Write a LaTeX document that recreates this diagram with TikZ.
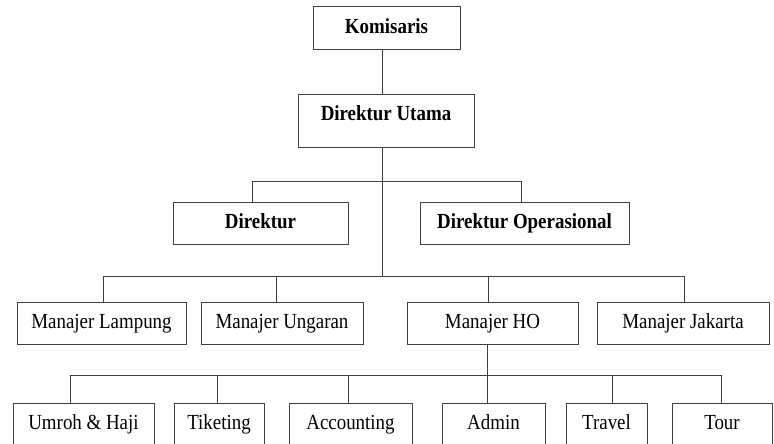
\documentclass[tikz,border=0pt]{standalone}
\usepackage{fontspec}
\setmainfont[FakeStretch=0.88]{Liberation Serif}
\begin{document}
\begin{tikzpicture}[x=1pt,y=-1pt,
  box/.style={draw=black!75, line width=1pt, inner sep=0pt, minimum height=42pt, text height=14pt, text depth=4pt, font=\fontsize{21.5}{23}\selectfont, text=black},
  bbox/.style={box, font=\fontsize{21.5}{23}\selectfont\bfseries},
  conn/.style={draw=black!75, line width=1pt}]
\useasboundingbox (0,0) rectangle (774,444);
\clip (0,0) rectangle (774,444);
% top
\node[bbox, minimum width=147pt, minimum height=43pt] (kom) at (386.5,28.5) {Komisaris};
\node[bbox, minimum width=176pt, minimum height=53pt] (du) at (386,120.5) {\raisebox{5pt}{Direktur Utama}};
\node[bbox, minimum width=175pt] (dir) at (260.5,223) {Direktur};
\node[bbox, minimum width=209pt] (dop) at (524.5,223) {Direktur Operasional};
% managers
\node[box, minimum width=169pt] (mL) at (101.5,323) {Manajer Lampung};
\node[box, minimum width=162pt] (mU) at (282,323) {Manajer Ungaran};
\node[box, minimum width=171pt] (mH) at (492.5,323) {Manajer HO};
\node[box, minimum width=172pt] (mJ) at (683,323) {Manajer Jakarta};
% bottom
\node[box, minimum width=141pt] (u) at (83.5,424) {Umroh \& Haji};
\node[box, minimum width=90pt] (t) at (219,424) {Tiketing};
\node[box, minimum width=123pt] (ac) at (350.5,424) {Accounting};
\node[box, minimum width=103pt] (ad) at (493.5,424) {Admin};
\node[box, minimum width=81pt] (tr) at (606.5,424) {Travel};
\node[box, minimum width=100pt] (to) at (722,424) {Tour};
% junction coordinates
\coordinate (sp) at (382,0);
\coordinate (b1) at (0,181);
\coordinate (b2) at (0,276);
\coordinate (b3) at (0,375);
\coordinate (xdir) at (252,0);
\coordinate (xdop) at (521,0);
\coordinate (xL) at (103,0);
\coordinate (xU) at (276,0);
\coordinate (xH) at (488,0);
\coordinate (xJ) at (684,0);
\coordinate (xh) at (487,0);
\coordinate (xu) at (70,0);
\coordinate (xt) at (217,0);
\coordinate (xac) at (348,0);
\coordinate (xtr) at (612,0);
\coordinate (xto) at (721,0);
% spine
\draw[conn] (sp |- kom.south) -- (sp |- du.north);
\draw[conn] (sp |- du.south) -- (sp |- b2);
% director bar
\draw[conn] (xdir |- dir.north) -- (xdir |- b1) -- (xdop |- b1) -- (xdop |- dop.north);
% manager bar
\draw[conn] (xL |- b2) -- (xJ |- b2);
\draw[conn] (xL |- b2) -- (xL |- mL.north);
\draw[conn] (xU |- b2) -- (xU |- mU.north);
\draw[conn] (xH |- b2) -- (xH |- mH.north);
\draw[conn] (xJ |- b2) -- (xJ |- mJ.north);
% HO bar
\draw[conn] (xh |- mH.south) -- (xh |- ad.north);
\draw[conn] (xu |- b3) -- (xto |- b3);
\draw[conn] (xu |- b3) -- (xu |- u.north);
\draw[conn] (xt |- b3) -- (xt |- t.north);
\draw[conn] (xac |- b3) -- (xac |- ac.north);
\draw[conn] (xtr |- b3) -- (xtr |- tr.north);
\draw[conn] (xto |- b3) -- (xto |- to.north);
\end{tikzpicture}
\end{document}
